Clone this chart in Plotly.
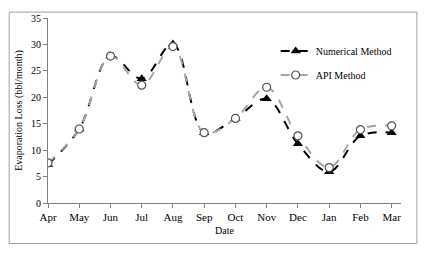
import plotly.graph_objects as go

months = ["Apr", "May", "Jun", "Jul", "Aug", "Sep", "Oct", "Nov", "Dec", "Jan", "Feb", "Mar"]
numerical = [7.3, 14.0, 27.8, 23.5, 30.1, 13.3, 16.0, 19.7, 11.2, 5.9, 12.7, 13.3]
api = [7.6, 14.0, 27.8, 22.3, 29.6, 13.3, 16.0, 21.9, 12.7, 6.7, 13.9, 14.6]
y_ticks = [0, 5, 10, 15, 20, 25, 30, 35]

font = "Liberation Serif"
x_idx = list(range(len(months)))

fig = go.Figure()
fig.add_trace(go.Scatter(
    x=x_idx, y=numerical, name="Numerical Method", mode="lines+markers", legendgroup="n",
    line=dict(color="black", width=2, dash="dash", shape="spline", smoothing=1.0),
    marker=dict(symbol="triangle-up", size=9, color="black"),
))
fig.add_trace(go.Scatter(
    x=x_idx, y=api, name="API Method", mode="lines+markers", legendgroup="a",
    line=dict(color="#a6a6a6", width=2, dash="dash", shape="spline", smoothing=1.0),
    marker=dict(symbol="circle", size=8, color="white", line=dict(color="#555555", width=1.2)),
))

fig.update_layout(
    width=426, height=256,
    margin=dict(l=48, r=25, t=16, b=53),
    paper_bgcolor="white", plot_bgcolor="white",
    font=dict(family=font, size=10, color="black"),
    showlegend=True,
    legend=dict(x=0.645, y=0.90, xanchor="left", yanchor="top",
                bgcolor="rgba(0,0,0,0)", font=dict(size=10, family=font),
                tracegroupgap=5, traceorder="grouped"),
    xaxis=dict(
        range=[0, 11.3], tickmode="array", tickvals=x_idx, ticktext=months,
        showgrid=False, zeroline=False, showline=True, linecolor="#808080", linewidth=1,
        ticks="outside", ticklen=4, tickcolor="#808080",
        tickfont=dict(size=11, family=font),
        title=dict(text="Date", font=dict(size=10, family=font), standoff=4),
    ),
    yaxis=dict(
        range=[0, 35], tickmode="array", tickvals=y_ticks,
        showgrid=False, zeroline=False, showline=True, linecolor="#808080", linewidth=1,
        ticks="outside", ticklen=4, tickcolor="#808080",
        tickfont=dict(size=10, family=font),
        title=dict(text="Evaporation Loss (bbl/month)", font=dict(size=10, family=font), standoff=6),
    ),
    shapes=[dict(type="rect", xref="paper", yref="paper",
                 x0=-0.110, x1=1.045, y0=-0.219, y1=1.032,
                 line=dict(color="#a0a0a0", width=1), layer="below")],
)

fig.write_html(
    "out.html",
    config={"displayModeBar": False},
    post_script="document.body.style.margin='0';document.body.style.overflow='hidden';",
)
